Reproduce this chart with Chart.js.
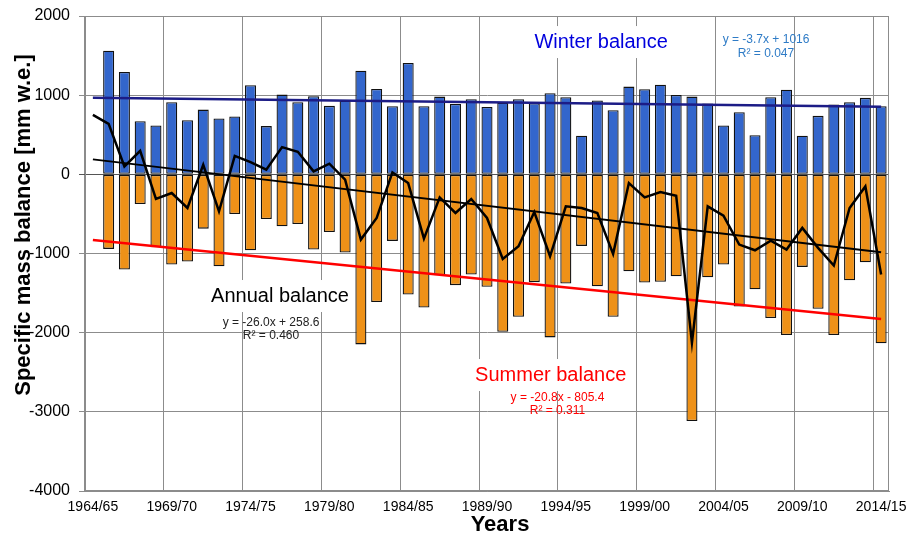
<!DOCTYPE html>
<html>
<head>
<meta charset="utf-8">
<script src="https://cdn.jsdelivr.net/npm/chart.js@4.4.0/dist/chart.umd.min.js"></script>
<style>
  html, body { margin: 0; padding: 0; background: #fff; }
  canvas { display: block; }
</style>
</head>
<body>
<canvas id="massBalanceChart" width="906" height="537"></canvas>
<script>
// hydrological years, 1964/65 has only an annual value
const years = [
  '1964/65', '1965/66', '1966/67', '1967/68', '1968/69', '1969/70', '1970/71', '1971/72', '1972/73', '1973/74',
  '1974/75', '1975/76', '1976/77', '1977/78', '1978/79', '1979/80', '1980/81', '1981/82', '1982/83', '1983/84',
  '1984/85', '1985/86', '1986/87', '1987/88', '1988/89', '1989/90', '1990/91', '1991/92', '1992/93', '1993/94',
  '1994/95', '1995/96', '1996/97', '1997/98', '1998/99', '1999/00', '2000/01', '2001/02', '2002/03', '2003/04',
  '2004/05', '2005/06', '2006/07', '2007/08', '2008/09', '2009/10', '2010/11', '2011/12', '2012/13', '2013/14',
  '2014/15'
];

// mm w.e.
const winterBalance = [
  null,
  1562, 1293, 672, 616, 911, 684, 818, 705, 730, 1126,
  609, 1007, 911, 987, 865, 930, 1310, 1079, 861, 1407,
  861, 982, 890, 949, 852, 905, 949, 899, 1025, 974,
  487, 932, 810, 1108, 1075, 1133, 1003, 982, 894, 616,
  785, 495, 974, 1070, 487, 739, 881, 911, 966, 861
];

const summerBalance = [
  null,
  -942, -1203, -375, -921, -1140, -1102, -686, -1161, -501, -959,
  -564, -656, -627, -950, -728, -988, -2148, -1614, -841, -1518,
  -1682, -1274, -1400, -1266, -1421, -1988, -1799, -1362, -2060, -1379,
  -904, -1413, -1799, -1224, -1366, -1358, -1287, -3115, -1300, -1140,
  -1669, -1451, -1816, -2031, -1169, -1698, -2031, -1337, -1110, -2135
];

const annualBalance = [
  751,
  638, 100, 297, -310, -236, -425, 121, -468, 234, 155,
  58, 344, 285, 37, 134, -68, -824, -551, 24, -110,
  -812, -291, -488, -311, -551, -1068, -909, -476, -1035, -404,
  -425, -488, -1005, -110, -291, -223, -270, -2127, -404, -522,
  -887, -959, -837, -950, -677, -929, -1152, -425, -153, -1266
];

// linear trends, value at first and last year
const winterTrend = [968, 854];
const annualTrend = [189, -985];
const summerTrend = [-830, -1828];

const yTicks = [2000, 1000, 0, -1000, -2000, -3000, -4000];
const labelStep = 5;

const FONT = "'Liberation Sans', Arial, sans-serif";
const GRID = '#8c8c8c';

// text boxes placed in data units (category index, mm w.e.)
const notes = [
  { lines: ['Winter balance'], x: 32.24, y: 1671, color: '#0000dd', size: 20, box: true },
  { lines: ['y = -3.7x + 1016', 'R\u00b2 = 0.047'], x: 42.7, y: 1696, color: '#2e7bc6', size: 12 },
  { lines: ['Annual balance'], x: 11.87, y: -1537, color: '#000', size: 20, box: true },
  { lines: ['y = -26.0x + 258.6', 'R\u00b2 = 0.460'], x: 11.3, y: -1874, color: '#222', size: 12 },
  { lines: ['Summer balance'], x: 29.04, y: -2535, color: '#ff0000', size: 20, box: true },
  { lines: ['y = -20.8x - 805.4', 'R\u00b2 = 0.311'], x: 29.47, y: -2817, color: '#ff0000', size: 12 }
];

function trendPoints(t) {
  return [{ x: years[0], y: t[0] }, { x: years[years.length - 1], y: t[1] }];
}

const notesPlugin = {
  id: 'notes',
  afterDatasetsDraw(chart) {
    const { ctx, chartArea, scales: { x, y } } = chart;
    ctx.save();

    // frame around plot
    ctx.strokeStyle = GRID;
    ctx.lineWidth = 1;
    ctx.strokeRect(chartArea.left + 0.5, chartArea.top + 0.5,
      chartArea.right - chartArea.left - 1, chartArea.bottom - chartArea.top - 1);

    ctx.textAlign = 'center';
    ctx.textBaseline = 'middle';
    notes.forEach(n => {
      const px = x.getPixelForValue(n.x);
      const py = y.getPixelForValue(n.y);
      ctx.font = n.size + 'px ' + FONT;
      if (n.box) {
        const w = ctx.measureText(n.lines[0]).width;
        ctx.fillStyle = '#fff';
        ctx.fillRect(px - w / 2 - 3, py - n.size * 0.8, w + 6, n.size * 1.6);
      }
      ctx.fillStyle = n.color;
      n.lines.forEach((t, k) => ctx.fillText(t, px, py + k * 13.3));
    });

    // axis titles
    ctx.fillStyle = '#000';
    ctx.font = 'bold 22px ' + FONT;
    ctx.fillText('Years', 500, 525);
    ctx.translate(24, 225);
    ctx.rotate(-Math.PI / 2);
    ctx.fillText('Specific mass balance [mm w.e.]', 0, 0);
    ctx.restore();
  }
};

const ctx = document.getElementById('massBalanceChart').getContext('2d');
new Chart(ctx, {
  data: {
    labels: years,
    datasets: [
      {
        type: 'line', label: 'Annual balance', data: annualBalance,
        borderColor: '#000', borderWidth: 2.5, pointRadius: 0, tension: 0, order: 1
      },
      {
        type: 'line', label: 'Winter trend', data: trendPoints(winterTrend),
        borderColor: '#1c1c86', borderWidth: 2.5, pointRadius: 0, order: 1
      },
      {
        type: 'line', label: 'Annual trend', data: trendPoints(annualTrend),
        borderColor: '#000', borderWidth: 2, pointRadius: 0, order: 1
      },
      {
        type: 'line', label: 'Summer trend', data: trendPoints(summerTrend),
        borderColor: '#ff0000', borderWidth: 2.5, pointRadius: 0, order: 1
      },
      {
        type: 'bar', label: 'Winter balance', data: winterBalance,
        backgroundColor: '#3366cc', borderColor: '#111', borderWidth: 1.3,
        borderSkipped: false, grouped: false, barPercentage: 0.7, categoryPercentage: 1, order: 2
      },
      {
        type: 'bar', label: 'Summer balance', data: summerBalance,
        backgroundColor: '#ee9118', borderColor: '#111', borderWidth: 1.3,
        borderSkipped: false, grouped: false, barPercentage: 0.7, categoryPercentage: 1, order: 2
      }
    ]
  },
  options: {
    responsive: false,
    animation: false,
    devicePixelRatio: 1,
    layout: { padding: { left: 0, top: 16, right: 17, bottom: 0 } },
    plugins: { legend: { display: false }, tooltip: { enabled: false } },
    scales: {
      x: {
        type: 'category',
        offset: true,
        afterFit(scale) {
          scale.height = 46;
          scale.paddingLeft = 0;
          scale.paddingRight = 0;
        },
        grid: {
          offset: true,
          drawTicks: false,
          color: c => (c.index % labelStep === 0 ? GRID : 'transparent')
        },
        border: { color: GRID },
        ticks: {
          autoSkip: false, maxRotation: 0, minRotation: 0, padding: 8,
          color: '#000', font: { family: FONT, size: 14 },
          callback: (v, i) => (i % labelStep === 0 ? years[i] : '')
        }
      },
      y: {
        min: -4000, max: 2000,
        afterFit(scale) {
          scale.width = 85;
          scale.paddingTop = 0;
          scale.paddingBottom = 0;
        },
        afterBuildTicks(scale) { scale.ticks = yTicks.map(v => ({ value: v })); },
        grid: {
          color: c => (c.tick && c.tick.value === 0 ? '#555' : GRID),
          tickLength: 6
        },
        border: { color: GRID },
        ticks: {
          padding: 9, color: '#000', font: { family: FONT, size: 16 },
          callback: v => String(v)
        }
      }
    }
  },
  plugins: [notesPlugin]
});
</script>
</body>
</html>
